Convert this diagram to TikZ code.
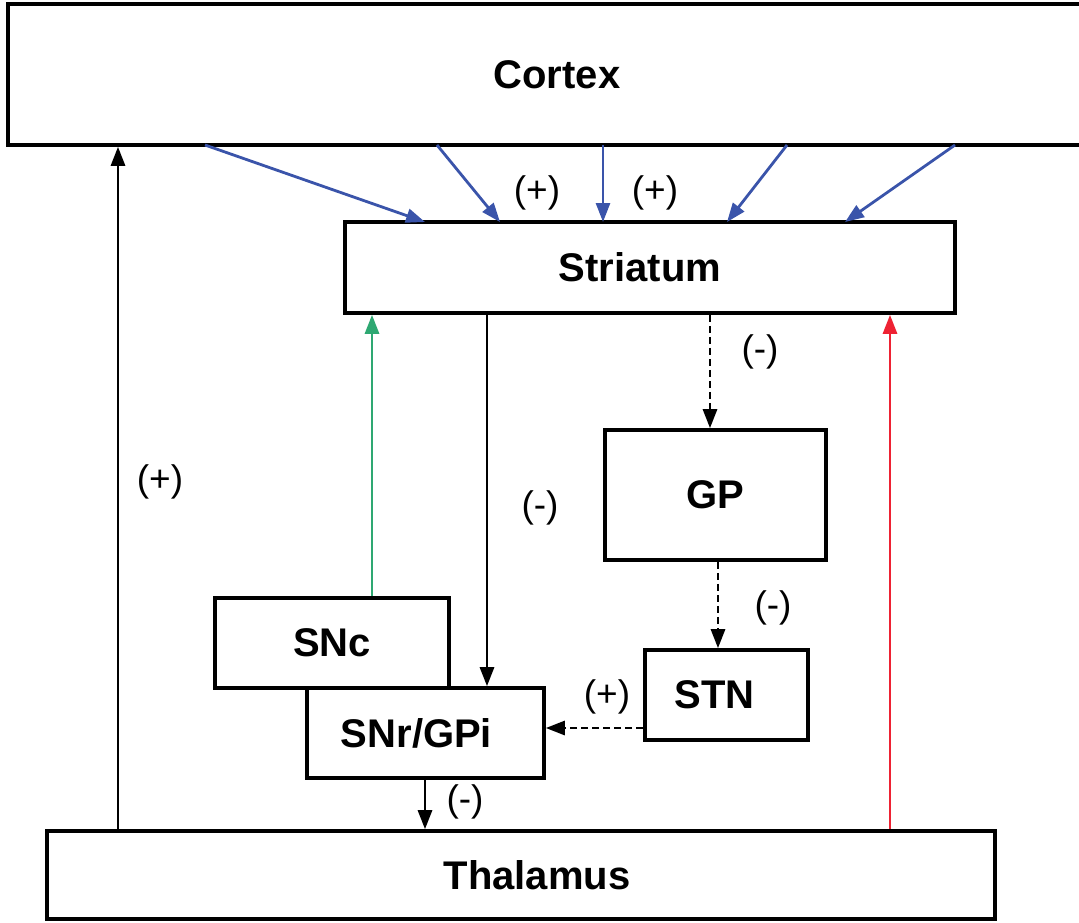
\documentclass[tikz,border=0pt]{standalone}
\usepackage{fontspec}
\setmainfont{Liberation Sans}
\usetikzlibrary{arrows.meta}
\definecolor{cblue}{RGB}{58,84,170}
\definecolor{cgreen}{RGB}{46,168,114}
\definecolor{cred}{RGB}{238,34,51}
\tikzset{
  box/.style={draw=black, line width=3.6pt, rectangle, inner sep=0pt, font=\fontsize{40}{48}\selectfont\bfseries},
  conn/.style={line width=2.8pt, -{Triangle[length=19pt,width=14pt]}},
  dconn/.style={conn, dash pattern=on 7pt off 4pt},
  sign/.style={font=\fontsize{37}{44}\selectfont, inner sep=0pt}
}
\begin{document}
\begin{tikzpicture}[x=1pt,y=-1pt]
\useasboundingbox (0,0) rectangle (1079,922);
\clip (0,0) rectangle (1079,922);
% boxes
\node[box, minimum width=1098pt, minimum height=141pt] (cortex) at (557,74.5) {Cortex};
\node[box, minimum width=610pt, minimum height=91pt] (striatum) at (650,267.5) {\hspace*{-20pt}Striatum};
\node[box, minimum width=221pt, minimum height=130pt] (gp) at (715.5,495) {GP};
\node[box, minimum width=234pt, minimum height=90pt] (snc) at (332,643) {SNc};
\node[box, minimum width=237pt, minimum height=90pt] (snr) at (425.5,733) {\hspace*{-18pt}SNr/GPi};
\node[box, minimum width=163pt, minimum height=90pt] (stn) at (726.5,695) {\hspace*{-24pt}STN};
\node[box, minimum width=948pt, minimum height=88pt] (thal) at (521,875) {\hspace*{32pt}Thalamus};
% coordinates
\coordinate (b1s) at (205,145); \coordinate (b1e) at (425,222);
\coordinate (b2s) at (437,145); \coordinate (b2e) at (500,222);
\coordinate (b3s) at (603,145); \coordinate (b3e) at (603,222);
\coordinate (b4s) at (787,145); \coordinate (b4e) at (727,222);
\coordinate (b5s) at (955,145); \coordinate (b5e) at (845,222);
% blue cortex->striatum
\foreach \i in {1,...,5} {\draw[conn, cblue] (b\i s) -- (b\i e);}
% thalamus -> cortex
\draw[conn] (thal.north -| 118,0) -- (cortex.south -| 118,0);
% SNc -> striatum (green)
\draw[conn, cgreen] (snc.north -| 372,0) -- (striatum.south -| 372,0);
% thalamus -> striatum (red)
\draw[conn, cred] (thal.north -| 890,0) -- (striatum.south -| 890,0);
% striatum -> SNr
\draw[conn] (striatum.south -| 487,0) -- (snr.north -| 487,0);
% striatum -> GP
\draw[dconn] (striatum.south -| 710,0) -- (gp.north -| 710,0);
% GP -> STN
\draw[dconn] (gp.south -| 718,0) -- (stn.north -| 718,0);
% STN -> SNr
\draw[dconn] (stn.west |- 0,728) -- (snr.east |- 0,728);
% SNr -> thalamus
\draw[conn] (snr.south -| 425,0) -- (thal.north -| 425,0);
% labels
\node[sign] (l1) at (160,482) {(+)};
\node[sign] (l2) at (537,193) {(+)};
\node[sign] (l3) at (655,193) {(+)};
\node[sign] (l4) at (540,508) {(-)};
\node[sign] (l5) at (760,352) {(-)};
\node[sign] (l6) at (773,608) {(-)};
\node[sign] (l7) at (607,697) {(+)};
\node[sign] (l8) at (465,802) {(-)};
\end{tikzpicture}
\end{document}
